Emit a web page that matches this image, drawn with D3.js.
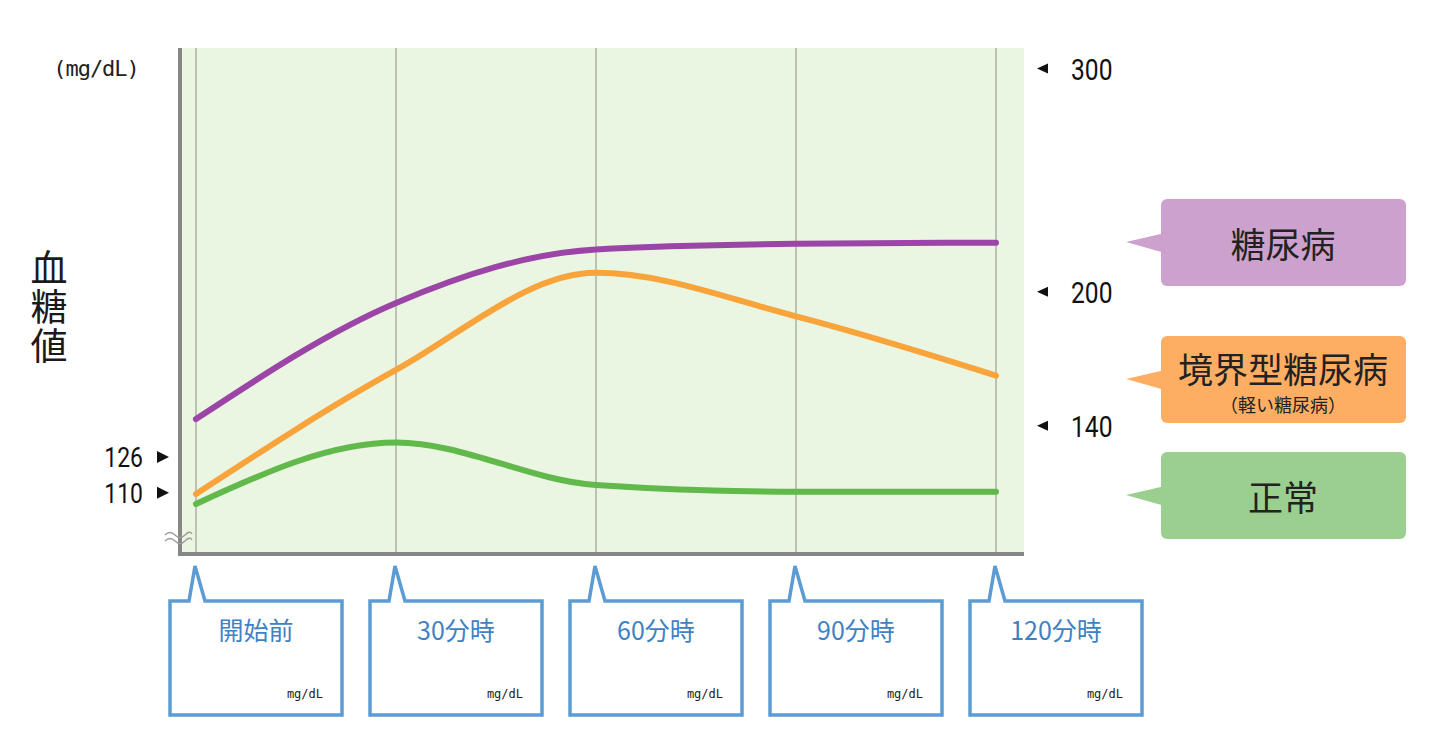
<!DOCTYPE html>
<html>
<head>
<meta charset="utf-8">
<script src="https://cdn.jsdelivr.net/npm/d3@7"></script>
<style>
  html, body { margin: 0; padding: 0; background: #fff; }
  svg { display: block; font-family: "Noto Sans CJK JP", "Noto Sans", sans-serif; }
</style>
</head>
<body>
<svg id="chart" width="1441" height="732"></svg>
<script>
// ---- data ----
const times = ["開始前", "30分時", "60分時", "90分時", "120分時"];
const diabetes = [143, 195, 219, 221.5, 222];
const borderline = [109.5, 165, 208.5, 189, 162.5];
const normal = [105, 132.5, 113.5, 110.5, 110.5];
const leftTicks = [110, 126];
const rightTicks = [140, 200, 300];
const seriesNames = ["糖尿病", "境界型糖尿病", "正常"];
const seriesSub = ["", "（軽い糖尿病）", ""];
const seriesColors = ["#9b46a7", "#f9a33b", "#62b94b"];
const boxColors = ["#cda1cd", "#fdae63", "#9acf8f"];
const unitLabel = "(mg/dL)";
const yTitle = "血糖値";
const boxUnit = "mg/dL";

// ---- layout ----
const svg = d3.select("#chart");
const plot = { left: 180, right: 1024, top: 48, bottom: 554 };
const x = d3.scalePoint().domain(times).range([196, 996]);
const y = d3.scaleLinear().domain([110, 300]).range([492.8, 68.5]);
const MONO = "'DejaVu Sans Mono', 'Liberation Mono', monospace";
const NUM = "Roboto, 'Liberation Sans', sans-serif";

// background
svg.append("rect")
  .attr("x", plot.left).attr("y", plot.top)
  .attr("width", plot.right - plot.left).attr("height", plot.bottom - plot.top)
  .attr("fill", "#eaf5e2");

// vertical grid lines
svg.append("g").selectAll("line").data(times).join("line")
  .attr("x1", d => x(d)).attr("x2", d => x(d))
  .attr("y1", plot.top).attr("y2", plot.bottom)
  .attr("stroke", "#8c9089").attr("stroke-width", 1);

// axes lines
svg.append("line").attr("x1", plot.left).attr("x2", plot.left)
  .attr("y1", plot.top).attr("y2", plot.bottom + 2)
  .attr("stroke", "#868686").attr("stroke-width", 4);
svg.append("line").attr("x1", plot.left - 2).attr("x2", plot.right)
  .attr("y1", plot.bottom).attr("y2", plot.bottom)
  .attr("stroke", "#868686").attr("stroke-width", 4);

// break symbol
const brk = svg.append("g").attr("fill", "none").attr("stroke", "#9a9a9a").attr("stroke-width", 1.3);
[0, 6].forEach(dy => {
  brk.append("path").attr("d", `M165,${535 + dy} q5,-5 10,0 t10,0 t7,-1`);
});

// lines
const line = d3.line().x((d, i) => x(times[i])).y(d => y(d)).curve(d3.curveMonotoneX);
[diabetes, borderline, normal].forEach((s, i) => {
  svg.append("path").datum(s).attr("d", line)
    .attr("fill", "none").attr("stroke", seriesColors[i])
    .attr("stroke-width", 6).attr("stroke-linecap", "round");
});

// unit label
svg.append("text").attr("x", 96).attr("y", 76).attr("text-anchor", "middle")
  .style("font-family", MONO).style("letter-spacing", "-1px")
  .attr("font-size", 22).attr("fill", "#222").text(unitLabel);

// y title (vertical)
svg.append("text").attr("x", 49).attr("y", 249)
  .style("writing-mode", "vertical-rl")
  .style("letter-spacing", "2px")
  .attr("font-size", 37).attr("fill", "#1a1a1a")
  .text(yTitle);

// left ticks
const lt = svg.append("g").selectAll("g").data(leftTicks).join("g")
  .attr("transform", d => `translate(0,${y(d)})`);
lt.append("path").attr("d", "M157,-6 L169,0 L157,6 Z").attr("fill", "#111");
lt.append("text").attr("transform", "translate(143,10) scale(0.85,1)")
  .attr("text-anchor", "end").style("font-family", NUM)
  .attr("font-size", 27).attr("fill", "#111").text(d => d);

// right ticks
const rt = svg.append("g").selectAll("g").data(rightTicks).join("g")
  .attr("transform", d => `translate(0,${y(d)})`);
rt.append("path").attr("d", "M1037,0 L1048,-5 L1048,5 Z").attr("fill", "#111");
rt.append("text").attr("transform", "translate(1071,11) scale(0.82,1)")
  .attr("text-anchor", "start").style("font-family", NUM)
  .attr("font-size", 30).attr("fill", "#111").text(d => d);

// legend callouts
const legTop = [199, 336, 452];
const leg = svg.append("g").selectAll("g").data(seriesNames).join("g");
leg.append("path").attr("d", (d, i) => {
  const t = legTop[i];
  return `M1165,${t + 34} L1126,${t + 43} L1165,${t + 54} Z`;
}).attr("fill", (d, i) => boxColors[i]);
leg.append("rect").attr("x", 1161).attr("y", (d, i) => legTop[i])
  .attr("width", 245).attr("height", 87).attr("rx", 6)
  .attr("fill", (d, i) => boxColors[i]);
leg.append("text").attr("x", 1283)
  .attr("y", (d, i) => seriesSub[i] ? legTop[i] + 47 : legTop[i] + 59)
  .attr("text-anchor", "middle").attr("font-size", 35).attr("fill", "#222")
  .text(d => d);
leg.filter((d, i) => seriesSub[i]).append("text").attr("x", 1283)
  .attr("y", 336 + 76)
  .attr("text-anchor", "middle").attr("font-size", 18).attr("fill", "#222")
  .text(seriesSub[1]);

// bottom callouts
const cb = svg.append("g").selectAll("g").data(times).join("g")
  .attr("transform", d => `translate(${x(d)},0)`);
cb.append("path")
  .attr("d", "M-26,601 L-7,601 L-1,566 L9,601 L146,601 L146,715 L-26,715 Z")
  .attr("fill", "#fff").attr("stroke", "#5c9bd4").attr("stroke-width", 3.5)
  .attr("stroke-linejoin", "miter");
cb.append("text").attr("x", 60).attr("y", 640).attr("text-anchor", "middle")
  .attr("font-size", 25).attr("fill", "#3f82c4").text(d => d);
cb.append("text").attr("x", 127).attr("y", 698).attr("text-anchor", "end")
  .style("font-family", MONO)
  .attr("font-size", 12).attr("fill", "#222").text(boxUnit);
</script>
</body>
</html>
